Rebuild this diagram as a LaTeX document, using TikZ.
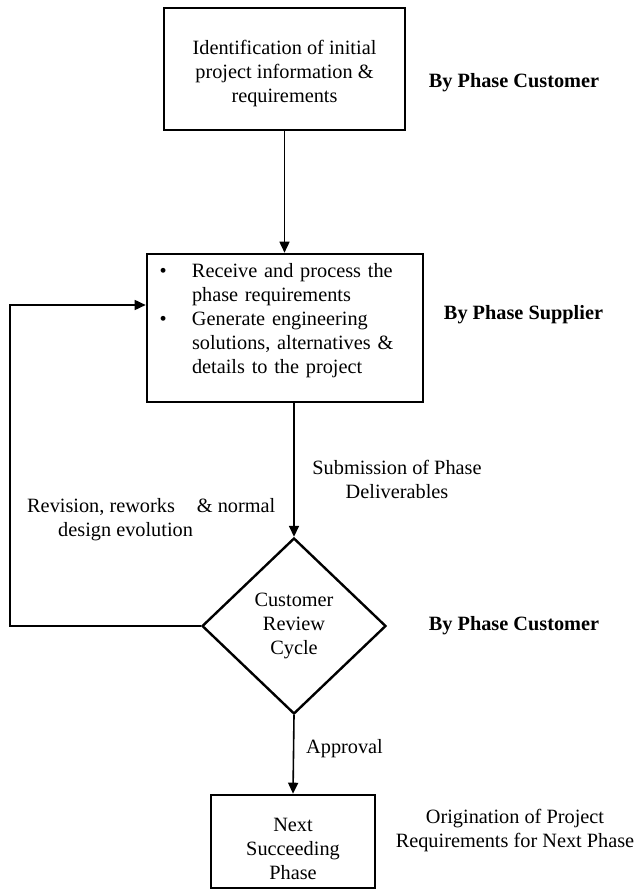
\documentclass[tikz,border=0pt]{standalone}
\usepackage{fontspec}
\setmainfont{Liberation Serif}
\usetikzlibrary{arrows.meta,shapes.geometric}
\begin{document}
\begin{tikzpicture}[x=1bp,y=-1bp,
  every node/.style={font=\fontsize{20.3bp}{24bp}\selectfont, inner sep=0pt},
  boxnode/.style={draw, line width=2.6bp, align=center},
  flow/.style={line width=1.6bp, -{Triangle[length=11bp,width=10bp]}},
  side/.style={font=\fontsize{20.3bp}{24bp}\selectfont\bfseries},
]
\useasboundingbox (0,0) rectangle (638,890);

% process boxes and the review decision
\node[boxnode, minimum width=241bp, minimum height=122bp] (ident) at (284.5,69)
  {\rule{0pt}{24bp}Identification of initial\\project information \&\\requirements};

\node[boxnode, align=left, text width=251bp, inner xsep=12.5bp, inner ysep=0pt,
      minimum height=148bp] (supply) at (285,328)
  {\makebox[32.5bp][l]{\textbullet}Receive and process the\\
   \hspace*{32.5bp}phase requirements\\
   \makebox[32.5bp][l]{\textbullet}Generate  engineering\\
   \hspace*{32.5bp}solutions, alternatives \&\\
   \hspace*{32.5bp}details to the project\rule[-20bp]{0pt}{20bp}};

\node[draw, diamond, line width=2.4bp, minimum width=184bp, minimum height=176bp,
      align=center] (review) at (294,626) {Customer\\Review\\Cycle};

\node[boxnode, minimum width=164bp, minimum height=93bp] (next) at (293,841.5)
  {\rule{0pt}{28bp}Next\\Succeeding\\Phase};

% responsibility labels on the right
\node[side, anchor=base] (cust1) at (514,87) {By Phase Customer};
\node[side, anchor=base] (supp) at (523.5,319) {By Phase Supplier};
\node[side, anchor=base] (cust2) at (514,630) {By Phase Customer};

% connector labels
\node[align=center] (submit) at (397,479) {Submission of Phase\\Deliverables};
\node[align=left, anchor=west] (revise) at (27,520)
  {Revision, reworks\hspace{22bp}\& normal\\\hspace*{31bp}design evolution};
\node[anchor=base west] (approve) at (306,753) {Approval};
\node[align=center] (origin) at (515,831) {Origination of Project\\Requirements for Next Phase};

% connectors
\draw[flow] (ident.south) -- (supply.north -| ident.south);
\draw[flow] (supply.south -| review.north) -- (review.north);
\draw[flow] (review.south) -- (next.north);
\coordinate (loop) at (10,305);
\draw[flow] (review.west) -| (loop) -- (loop -| supply.west);
\end{tikzpicture}
\end{document}
